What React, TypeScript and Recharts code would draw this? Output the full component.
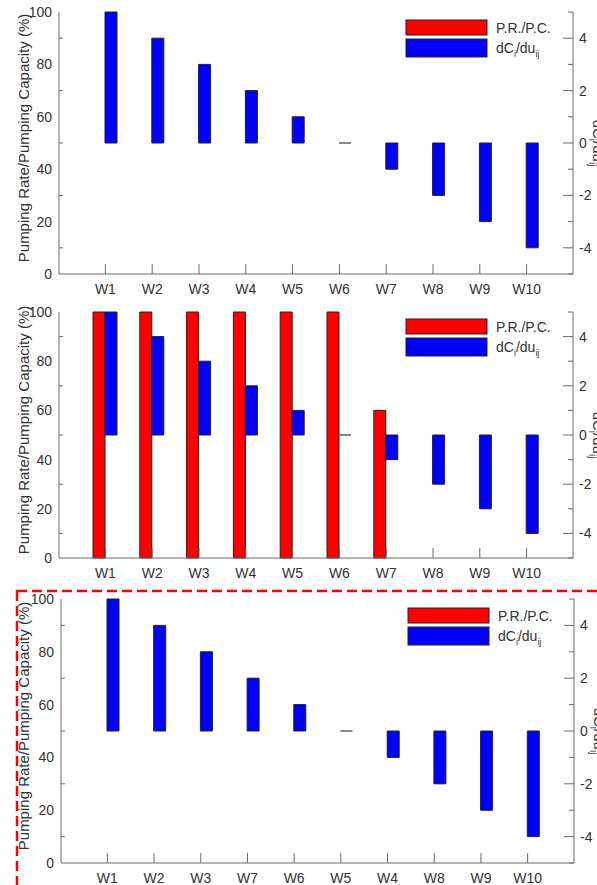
import React from 'react';
import { ComposedChart, Bar, XAxis, YAxis, Legend, Label, Rectangle } from 'recharts';

const wells = ['W1', 'W2', 'W3', 'W4', 'W5', 'W6', 'W7', 'W8', 'W9', 'W10'];
const wellsRanked = ['W1', 'W2', 'W3', 'W7', 'W6', 'W5', 'W4', 'W8', 'W9', 'W10'];
const sensitivity = [5, 4, 3, 2, 1, 0, -1, -2, -3, -4];
const rateOff = [0, 0, 0, 0, 0, 0, 0, 0, 0, 0];
const rateOn = [100, 100, 100, 100, 100, 100, 60, 0, 0, 0];
const rateTicks = [0, 10, 20, 30, 40, 50, 60, 70, 80, 90, 100];
const sensTicks = [-5, -4, -3, -2, -1, 0, 1, 2, 3, 4, 5];

const AXIS = '#6a6a6a';
const TXT = '#333';
const FONT = '"Liberation Sans", Arial, sans-serif';
const RED = '#ff0000';
const BLUE = '#0000ff';

const XTick = (p: any) => (
  <g>
    <line x1={p.x} x2={p.x} y1={p.y} y2={p.y - 10} stroke={AXIS} />
    <text x={p.x} y={p.y + 20} textAnchor="middle" fontSize={14} fill={TXT} fontFamily={FONT}>
      {p.payload.value}
    </text>
  </g>
);

const LeftTick = (p: any) => {
  const v = p.payload.value;
  const major = v % 20 === 0;
  return (
    <g>
      {!major && <line x1={p.x} x2={p.x + 4} y1={p.y} y2={p.y} stroke={AXIS} />}
      {major && (
        <text x={p.x - 7} y={p.y} dy="0.35em" textAnchor="end" fontSize={14} fill={TXT} fontFamily={FONT}>
          {v}
        </text>
      )}
    </g>
  );
};

const RightTick = (p: any) => {
  const v = p.payload.value;
  const major = v % 2 === 0;
  return (
    <g>
      <line x1={p.x} x2={p.x - (major ? 10 : 5)} y1={p.y} y2={p.y} stroke={AXIS} />
      {major && (
        <text x={p.x + 6} y={p.y} dy="0.35em" textAnchor="start" fontSize={14} fill={TXT} fontFamily={FONT}>
          {v}
        </text>
      )}
    </g>
  );
};

const SensBar = (p: any) => {
  if (!p.height) {
    return <line x1={p.x} x2={p.x + p.width} y1={p.y} y2={p.y} stroke="#8a8a8a" strokeWidth={2} />;
  }
  return <Rectangle {...p} />;
};

const LegendBox = () => (
  <svg width={190} height={40}>
    <rect x={1} y={1} width={81} height={15} fill={RED} stroke="#222" />
    <rect x={1} y={20} width={81} height={18} fill={BLUE} stroke="#222" />
    <text x={91} y={14} fontSize={14} fill={TXT} fontFamily={FONT}>P.R./P.C.</text>
    <text x={91} y={34} fontSize={14} fill={TXT} fontFamily={FONT}>
      dC<tspan fontSize={9} dy={4}>i</tspan>
      <tspan dy={-4}>/du</tspan>
      <tspan fontSize={9} dy={4}>ij</tspan>
    </text>
  </svg>
);

function Panel({ top, height, margin, leftW, rightW, names, rates, legend }: any) {
  const data = names.map((w: string, i: number) => ({ well: w, rate: rates[i], sens: sensitivity[i] }));
  return (
    <div style={{ position: 'absolute', left: 0, top }}>
      <ComposedChart width={597} height={height} data={data} margin={margin} barGap={0}>
        <XAxis
          dataKey="well"
          interval={0}
          padding={{ left: 23, right: 23 }}
          height={20}
          tickSize={0}
          tickMargin={0}
          tickLine={false}
          tick={<XTick />}
          axisLine={{ stroke: AXIS }}
        />
        <XAxis xAxisId="top" dataKey="well" orientation="top" height={0} tick={false} tickLine={false} axisLine={{ stroke: AXIS }} />
        <YAxis
          yAxisId="l"
          domain={[0, 100]}
          ticks={rateTicks}
          interval={0}
          width={leftW}
          tickSize={0}
          tickMargin={0}
          tickLine={false}
          tick={<LeftTick />}
          axisLine={{ stroke: AXIS }}
        >
          <Label
            content={(lp: any) => {
              const vb = lp.viewBox;
              return (
                <text
                  transform={`translate(${vb.x + 29},${vb.y + vb.height / 2 - 5}) rotate(-90)`}
                  textAnchor="middle"
                  fontSize={15}
                  fill={TXT}
                  fontFamily={FONT}
                >
                  Pumping Rate/Pumping Capacity (%)
                </text>
              );
            }}
          />
        </YAxis>
        <YAxis
          yAxisId="r"
          orientation="right"
          domain={[-5, 5]}
          ticks={sensTicks}
          interval={0}
          width={rightW}
          tickSize={0}
          tickMargin={0}
          tickLine={false}
          tick={<RightTick />}
          axisLine={{ stroke: AXIS }}
        >
          <Label
            content={(lp: any) => {
              const vb = lp.viewBox;
              return (
                <text
                  transform={`translate(${vb.x + 20},${vb.y + vb.height / 2}) rotate(90)`}
                  textAnchor="middle"
                  fontSize={15}
                  fill={TXT}
                  fontFamily={FONT}
                >
                  dC<tspan fontSize={10} dy={4}>i</tspan>
                  <tspan dy={-4}>/du</tspan>
                  <tspan fontSize={10} dy={4}>ij</tspan>
                </text>
              );
            }}
          />
        </YAxis>
        <Legend
          verticalAlign="middle"
          content={<LegendBox />}
          wrapperStyle={{ position: 'absolute', left: legend[0], top: legend[1], width: 190, height: 40 }}
        />
        <Bar yAxisId="l" dataKey="rate" name="P.R./P.C." fill={RED} stroke="#222" barSize={12} isAnimationActive={false} />
        <Bar yAxisId="r" dataKey="sens" name="dCi/duij" fill={BLUE} stroke="#222" barSize={12} shape={SensBar} isAnimationActive={false} />
      </ComposedChart>
    </div>
  );
}

export default function App() {
  return (
    <div style={{ position: 'absolute', left: 0, top: 0, width: 597, height: 885, overflow: 'hidden', background: '#fff' }}>
      <Panel top={0} height={300} margin={{ top: 12, right: 0, bottom: 6, left: 0 }} leftW={59} rightW={24} names={wells} rates={rateOff} legend={[405, 19]} />
      <Panel top={300} height={290} margin={{ top: 12, right: 0, bottom: 12, left: 0 }} leftW={59} rightW={24} names={wells} rates={rateOn} legend={[405, 18]} />
      <Panel top={590} height={295} margin={{ top: 9, right: 0, bottom: 2, left: 0 }} leftW={61} rightW={23} names={wellsRanked} rates={rateOff} legend={[407, 17]} />
      <svg width={597} height={885} style={{ position: 'absolute', left: 0, top: 0, pointerEvents: 'none' }}>
        <rect x={17} y={591} width={700} height={400} fill="none" stroke={RED} strokeWidth={2.5} strokeDasharray="10 5" />
      </svg>
    </div>
  );
}
